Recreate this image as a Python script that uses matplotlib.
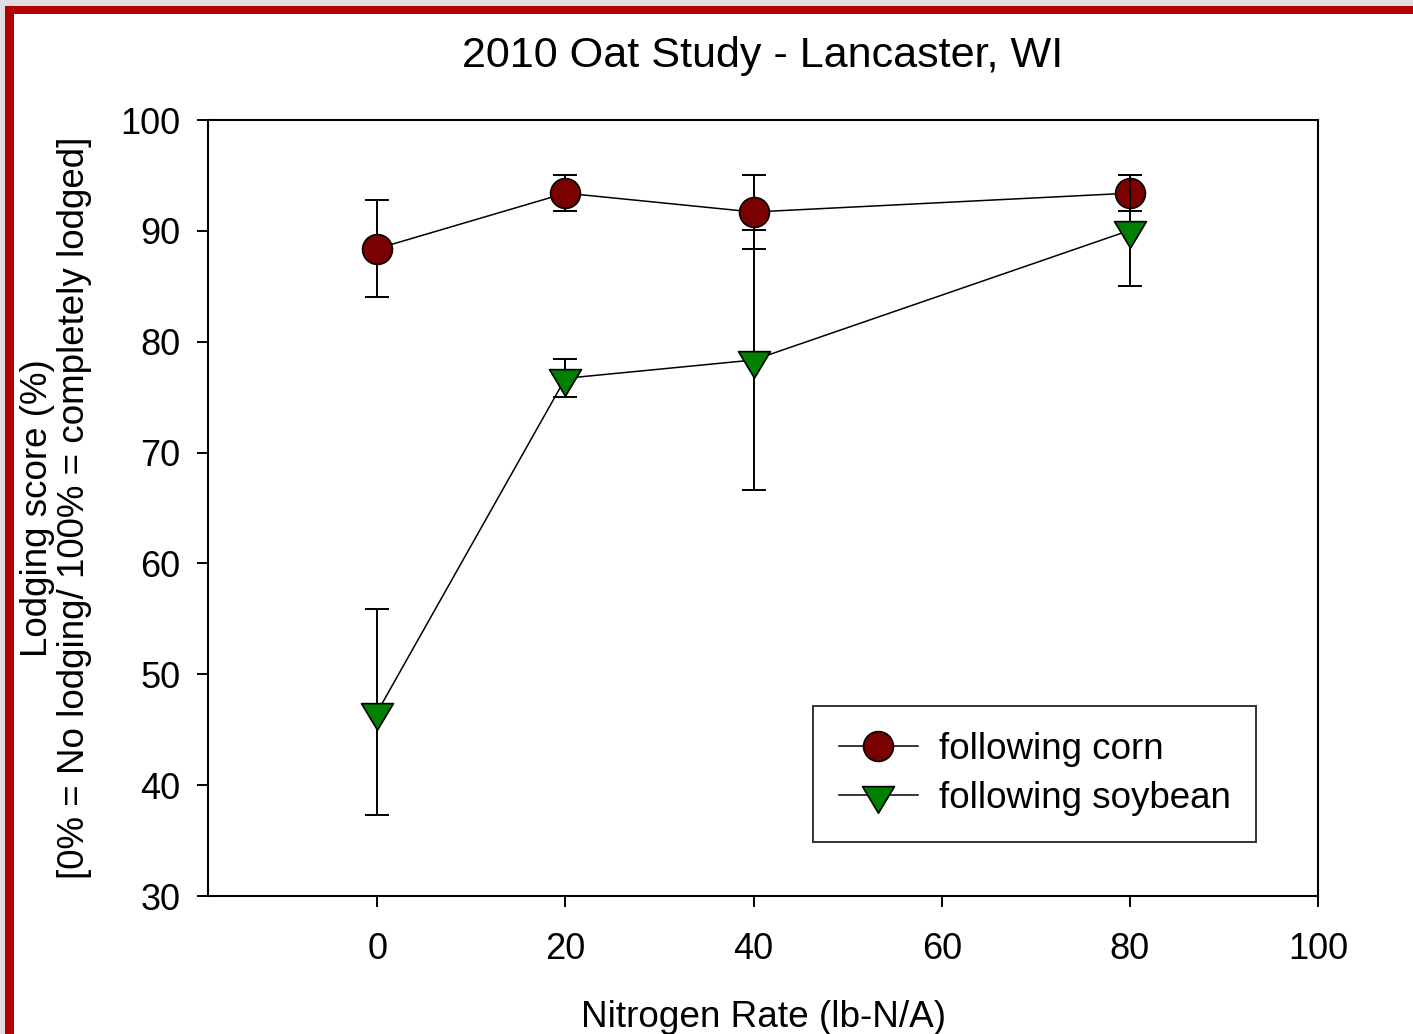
import matplotlib
matplotlib.use("Agg")
import matplotlib.pyplot as plt
from matplotlib.patches import Rectangle
from matplotlib.path import Path

# Nitrogen rates and lodging scores with their error bars
n_rate = [0, 20, 40, 80]
corn_mean = [88.4, 93.4, 91.7, 93.4]
corn_err = [4.4, 1.65, 3.35, 1.65]
soy_mean = [46.6, 76.7, 78.35, 90.05]
soy_err = [9.3, 1.7, 11.7, 5.0]

x_ticks = [0, 20, 40, 60, 80, 100]
y_ticks = [30, 40, 50, 60, 70, 80, 90, 100]

plt.rcParams["font.family"] = ["Liberation Sans", "DejaVu Sans"]

W, H, DPI = 1413, 1034, 100
fig = plt.figure(figsize=(W / DPI, H / DPI), dpi=DPI)
fig.patch.set_facecolor("#dedee0")

# red page frame
fig.add_artist(Rectangle((5 / W, 0), 1, 1 - 6 / H, transform=fig.transFigure,
                         facecolor="#b00000", edgecolor="none", zorder=-20))
fig.add_artist(Rectangle((14 / W, 0), 1, 1 - 14 / H, transform=fig.transFigure,
                         facecolor="white", edgecolor="none", zorder=-19))

ax = fig.add_axes([208 / W, 1 - 896 / H, (1318 - 208) / W, (896 - 120) / H])
ax.set_facecolor("none")

# downward triangle centred on its centroid
tri = Path([(-1, 0.556), (1, 0.556), (0, -1.111), (-1, 0.556)],
           [Path.MOVETO, Path.LINETO, Path.LINETO, Path.CLOSEPOLY])

cap = 8.5
ax.errorbar(n_rate, corn_mean, yerr=corn_err, fmt="none", ecolor="black",
            elinewidth=1.4, capsize=cap, capthick=1.4, zorder=2)
ax.plot(n_rate, corn_mean, color="black", lw=1.1, marker="o", ms=21.5,
        mfc="#7b0000", mec="black", mew=1.2, zorder=3, label="following corn")
ax.errorbar(n_rate, soy_mean, yerr=soy_err, fmt="none", ecolor="black",
            elinewidth=1.4, capsize=cap, capthick=1.4, zorder=4)
ax.plot(n_rate, soy_mean, color="black", lw=1.1, marker=tri, ms=25.5,
        mfc="#008000", mec="black", mew=1.2, zorder=5, label="following soybean")

ax.set_xlim(-18, 100)
ax.set_ylim(30, 100)
ax.set_xticks(x_ticks)
ax.set_yticks(y_ticks)
for s in ax.spines.values():
    s.set_linewidth(1.5)
ax.tick_params(axis="both", direction="out", length=8, width=1.4,
               labelsize=26, top=False, right=False)
ax.tick_params(axis="x", pad=18)
ax.tick_params(axis="y", pad=12)

ax.set_title("2010 Oat Study - Lancaster, WI", fontsize=31.1, pad=38)
ax.set_xlabel("Nitrogen Rate (lb-N/A)", fontsize=26.6, labelpad=24)
ax.set_ylabel("Lodging score (%)\n[0% = No lodging/ 100% = completely lodged]",
              fontsize=26.5, labelpad=20, linespacing=1.09)

leg = ax.legend(loc="lower left", bbox_to_anchor=(0.545, 0.0696),
                fontsize=26.5, frameon=True, fancybox=False, edgecolor="black",
                handlelength=2.15, handletextpad=0.57, borderpad=0.7,
                labelspacing=0.38, borderaxespad=0)
leg.get_frame().set_linewidth(1.4)

fig.savefig("out.png", dpi=DPI)
